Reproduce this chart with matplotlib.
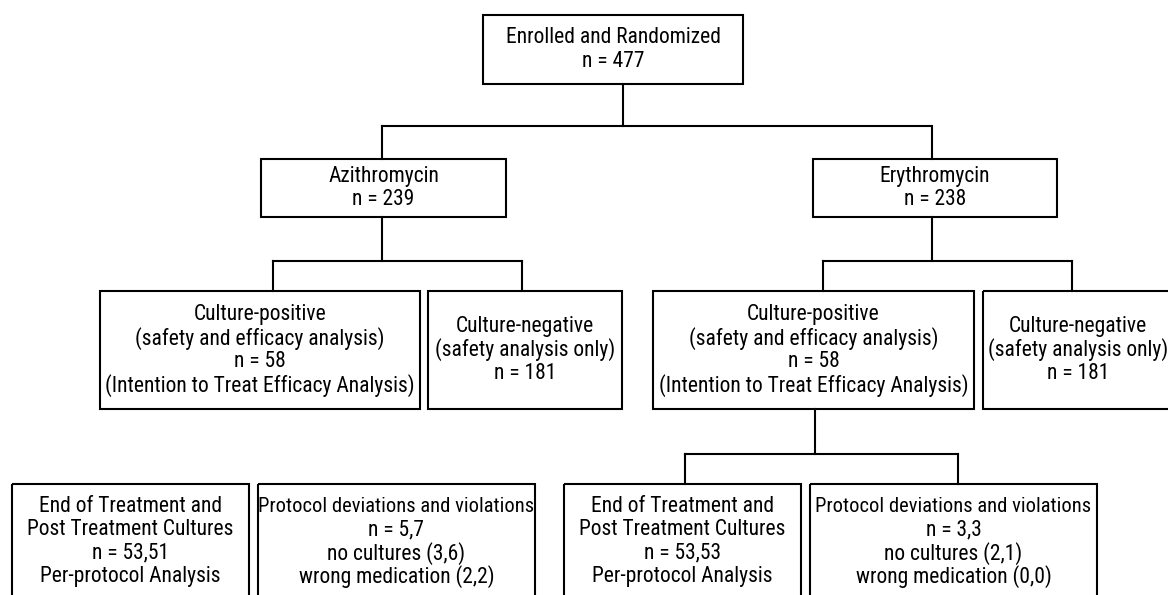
import matplotlib.pyplot as plt
from matplotlib.patches import Rectangle
from matplotlib import font_manager as fm

# data
enrolled_n = 477
arm_names = ['Azithromycin', 'Erythromycin']
arm_n = [239, 238]
pos_n = [58, 58]
neg_n = [181, 181]
pp_n = ['53,51', '53,53']
dev_n = ['5,7', '3,3']
no_cultures = ['3,6', '2,1']
wrong_med = ['2,2', '0,0']

# pick a narrow sans font, like the Arial Narrow of the original
installed = {f.name for f in fm.fontManager.ttflist}
narrow = [n for n in ['Liberation Sans Narrow', 'Arial Narrow', 'Roboto Condensed',
                      'Archivo Narrow', 'PT Sans Narrow'] if n in installed]
plt.rcParams['font.family'] = narrow[:1] + ['DejaVu Sans']

fig = plt.figure(figsize=(11.68, 5.95), dpi=100)
ax = fig.add_axes([0, 0, 1, 1])
ax.set_xlim(0, 1168)
ax.set_ylim(595, 0)
ax.axis('off')

FS = 15.5
LW = 1.5


def box(x0, x1, y0, y1, lines, yc=None, step=23.5, sizes=None):
    ax.add_patch(Rectangle((x0, y0), x1 - x0, y1 - y0, fill=False,
                           lw=LW, ec='black', clip_on=False))
    if yc is None:
        yc = (y0 + y1) / 2
    if sizes is None:
        sizes = [FS] * len(lines)
    xc = (x0 + x1) / 2
    start = yc - step * (len(lines) - 1) / 2
    for i, s in enumerate(lines):
        ax.text(xc, start + i * step, s, ha='center', va='center',
                fontsize=sizes[i], color='black')


def line(xs, ys):
    ax.plot(xs, ys, color='black', lw=LW, solid_capstyle='projecting')


# top level
box(483, 743, 15, 84, ['Enrolled and Randomized', f'n = {enrolled_n}'])
line([623, 623], [84, 126])
line([382, 931], [126, 126])

arm_x = [(261, 506), (813, 1057)]
arm_mid = [382, 932]
for i in range(2):
    x0, x1 = arm_x[i]
    line([arm_mid[i], arm_mid[i]], [126, 159])
    box(x0, x1, 159, 217, [arm_names[i], f'n = {arm_n[i]}'])

# culture level
pos_x = [(100, 420), (653, 974)]
neg_x = [(428, 622), (983, 1173)]
split = [(273, 522), (823, 1072)]
for i in range(2):
    a, b = split[i]
    line([arm_mid[i], arm_mid[i]], [217, 261])
    line([a, b], [261, 261])
    line([a, a], [261, 291])
    line([b, b], [261, 291])
    box(*pos_x[i], 291, 409, ['Culture-positive',
                             '(safety and efficacy analysis)',
                             f'n = {pos_n[i]}',
                             '(Intention to Treat Efficacy Analysis)'])
    box(*neg_x[i], 291, 409, ['Culture-negative',
                             '(safety analysis only)',
                             f'n = {neg_n[i]}'])

# connector under the erythromycin culture-positive box
line([815, 815], [409, 454])
line([685, 958], [454, 454])
line([685, 685], [454, 484])
line([958, 958], [454, 484])

# bottom level
pp_x = [(12, 249), (564, 801)]
dev_x = [(258, 535), (810, 1097)]
for i in range(2):
    box(*pp_x[i], 484, 620, ['End of Treatment and',
                            'Post Treatment Cultures',
                            f'n = {pp_n[i]}',
                            'Per-protocol Analysis'], yc=541.5)
    box(*dev_x[i], 484, 620, ['Protocol deviations and violations',
                             f'n = {dev_n[i]}',
                             f'no cultures ({no_cultures[i]})',
                             f'wrong medication ({wrong_med[i]})'], yc=541.5,
        sizes=[14.8, FS, FS, FS])

fig.savefig('out.png', dpi=100)
